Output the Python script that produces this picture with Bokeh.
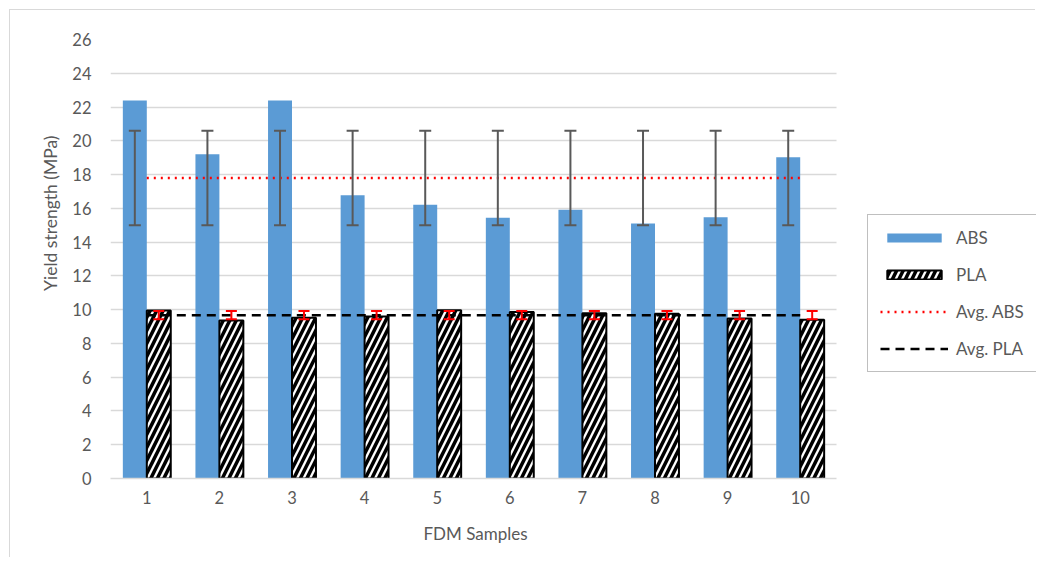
import math
from bokeh.plotting import figure
from bokeh.models import (ColumnDataSource, Whisker, TeeHead, Legend, LegendItem,
                          FixedTicker, Title, Range1d)
from bokeh.embed import file_html
from bokeh.resources import INLINE

# ---- data ----
samples = [1, 2, 3, 4, 5, 6, 7, 8, 9, 10]
tick_labels = ["1", "2", "3", "4", "5", "6", "7", "8", "9", "10"]
abs_vals = [22.38, 19.2, 22.38, 16.77, 16.22, 15.44, 15.92, 15.1, 15.47, 19.03]
pla_vals = [9.95, 9.36, 9.52, 9.6, 9.97, 9.86, 9.78, 9.76, 9.47, 9.4]
avg_abs = 17.8
avg_pla = 9.67
err_abs = 2.8
err_pla = 0.245
y_ticks = [0, 2, 4, 6, 8, 10, 12, 14, 16, 18, 20, 22, 24, 26]

FONT = "Lato"
GREY = "#595959"
BLUE = "#5b9bd5"
BW = 0.33

W, H = 1026, 548
LEFT, TOP, BOTTOM = 100, 29, 80
PX_PER_UNIT = 72.6           # width of one sample slot in pixels
x_start = samples[0] - 0.5
x_end = x_start + (W - LEFT) / PX_PER_UNIT

abs_x = [s - BW / 2 for s in samples]
pla_x = [s + BW / 2 for s in samples]

src_abs = ColumnDataSource(dict(x=abs_x, top=abs_vals,
                                upper=[avg_abs + err_abs] * len(samples),
                                lower=[avg_abs - err_abs] * len(samples)))
src_pla = ColumnDataSource(dict(x=pla_x, top=pla_vals,
                                upper=[avg_pla + err_pla] * len(samples),
                                lower=[avg_pla - err_pla] * len(samples)))

p = figure(width=W, height=H, output_backend="svg", toolbar_location=None,
           x_range=Range1d(x_start, x_end), y_range=Range1d(0, 26),
           min_border_left=LEFT, min_border_right=0, min_border_top=TOP,
           min_border_bottom=BOTTOM)
p.styles = {"margin-left": "9px", "margin-top": "9px",
            "border-left": "1px solid #d9d9d9", "border-top": "1px solid #d9d9d9"}
p.outline_line_color = None
p.background_fill_color = "white"
p.border_fill_color = "white"

r_abs = p.vbar(x="x", top="top", width=BW, source=src_abs, fill_color=BLUE,
               line_color=None)
r_pla = p.vbar(x="x", top="top", width=BW, source=src_pla, fill_color="white",
               line_color="black", line_width=2,
               hatch_pattern="right_diagonal_line", hatch_color="black",
               hatch_scale=13, hatch_weight=3.5)

r_avg_abs = p.line(x=[samples[0], samples[-1]], y=[avg_abs, avg_abs],
                   line_color="red", line_width=2.5, line_dash="2 5")
r_avg_pla = p.line(x=[samples[0], samples[-1]], y=[avg_pla, avg_pla],
                   line_color="black", line_width=2.5, line_dash="9 6")

w_abs = Whisker(base="x", upper="upper", lower="lower", source=src_abs,
                level="overlay", line_color=GREY, line_width=2,
                upper_head=TeeHead(size=12, line_color=GREY, line_width=2),
                lower_head=TeeHead(size=12, line_color=GREY, line_width=2))
w_pla = Whisker(base="x", upper="upper", lower="lower", source=src_pla,
                level="overlay", line_color="red", line_width=2,
                upper_head=TeeHead(size=11, line_color="red", line_width=2),
                lower_head=TeeHead(size=11, line_color="red", line_width=2))
p.add_layout(w_abs)
p.add_layout(w_pla)

# axes
p.xaxis.ticker = FixedTicker(ticks=samples)
p.xaxis.major_label_overrides = {s: t for s, t in zip(samples, tick_labels)}
p.xaxis.bounds = (x_start, samples[-1] + 0.5)
p.xaxis.axis_line_color = "#d9d9d9"
p.xaxis.axis_line_width = 1.5
p.xaxis.major_tick_line_color = None
p.xaxis.minor_tick_line_color = None
p.xaxis.major_label_standoff = 6

p.yaxis.ticker = FixedTicker(ticks=y_ticks)
p.yaxis.axis_line_color = None
p.yaxis.major_tick_line_color = None
p.yaxis.minor_tick_line_color = None
p.yaxis.major_label_standoff = 13

for ax in (p.xaxis[0], p.yaxis[0]):
    ax.major_label_text_font = FONT
    ax.major_label_text_font_size = "16.5px"
    ax.major_label_text_color = GREY

p.xgrid.grid_line_color = None
p.ygrid.grid_line_color = "#d9d9d9"
p.ygrid.grid_line_width = 1.5
p.ygrid.cross_bounds = (x_start, samples[-1] + 0.5)

ytitle = Title(text="Yield strength (MPa)", align="right", offset=96,
               standoff=18, text_font=FONT, text_font_size="17.5px",
               text_font_style="normal", text_color=GREY)
p.add_layout(ytitle, "left")

xtitle = Title(text="FDM Samples", align="left", offset=313,
               standoff=28, text_font=FONT, text_font_size="17px",
               text_font_style="normal", text_color=GREY)
p.add_layout(xtitle, "below")

# legend (frame-relative pixel position, right of the sample area)
legend = Legend(items=[LegendItem(label="ABS", renderers=[r_abs]),
                       LegendItem(label="PLA", renderers=[r_pla]),
                       LegendItem(label="Avg. ABS", renderers=[r_avg_abs]),
                       LegendItem(label="Avg. PLA", renderers=[r_avg_pla])],
                location=(757, 106), orientation="vertical")
legend.glyph_width = 68
legend.glyph_height = 11
legend.label_height = 20
legend.spacing = 16
legend.padding = 12
legend.margin = 0
legend.label_standoff = 8
legend.label_text_font = FONT
legend.label_text_font_size = "17px"
legend.label_text_color = GREY
legend.border_line_color = "#7f7f7f"
legend.border_line_width = 1.5
legend.background_fill_color = "white"
legend.background_fill_alpha = 1
p.add_layout(legend, "center")

open("out.html", "w").write(file_html(p, INLINE))
